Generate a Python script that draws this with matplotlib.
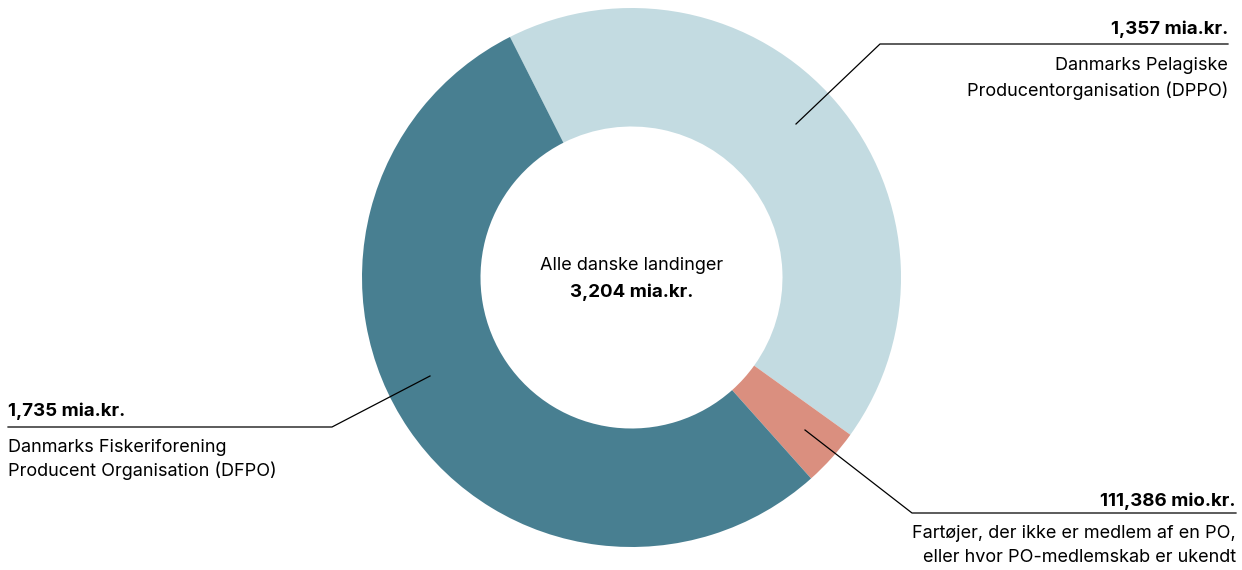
import matplotlib.pyplot as plt

plt.rcParams['font.family'] = ['Inter', 'DejaVu Sans']

# values in mia.kr.
labels = ['Danmarks Pelagiske\nProducentorganisation (DPPO)',
          'Fartøjer, der ikke er medlem af en PO,\neller hvor PO-medlemskab er ukendt',
          'Danmarks Fiskeriforening\nProducent Organisation (DFPO)']
values = [1.357, 0.111386, 1.735]
value_labels = ['1,357 mia.kr.', '111,386 mio.kr.', '1,735 mia.kr.']
colors = ['#c3dbe1', '#da8f7f', '#487f91']
total_label = '3,204 mia.kr.'
center_title = 'Alle danske landinger'

W, H = 1242, 570
fig = plt.figure(figsize=(W / 100, H / 100), dpi=100)
ax = fig.add_axes([0, 0, 1, 1])

cx, cy, R = 631.5, H - 277.5, 269.5
ax.pie(values, colors=colors, center=(cx, cy), radius=R, startangle=116.8,
       counterclock=False, wedgeprops=dict(width=R - 151, linewidth=0))
ax.set_xlim(0, W)
ax.set_ylim(0, H)
ax.set_aspect('auto')
ax.axis('off')

def Y(y):
    return H - y

fs = 13
fsb = 13.5
# center text
ax.text(cx, Y(266), center_title, ha='center', va='center', fontsize=fs)
ax.text(cx, Y(292), total_label, ha='center', va='center', fontsize=fsb, fontweight='bold')

# leader lines and labels: (anchor on ring, elbow, line end, align, value y, description ys)
callouts = [
    ((796, 124), (880, 44), 1228, 'right', 29, (66, 91)),
    ((805, 430), (912, 513), 1236, 'right', 501, (533, 558)),
    ((430, 376), (332, 427), 8, 'left', 411, (448, 471)),
]
for i, (a, e, xend, align, ty, dys) in enumerate(callouts):
    ax.plot([a[0], e[0], xend], [Y(a[1]), Y(e[1]), Y(e[1])], color='black', lw=0.9)
    ax.text(xend, Y(ty), value_labels[i], ha=align, va='center', fontsize=fsb, fontweight='bold')
    for line, dy in zip(labels[i].split('\n'), dys):
        ax.text(xend, Y(dy), line, ha=align, va='center', fontsize=fs)

fig.savefig('out.png', dpi=100)
